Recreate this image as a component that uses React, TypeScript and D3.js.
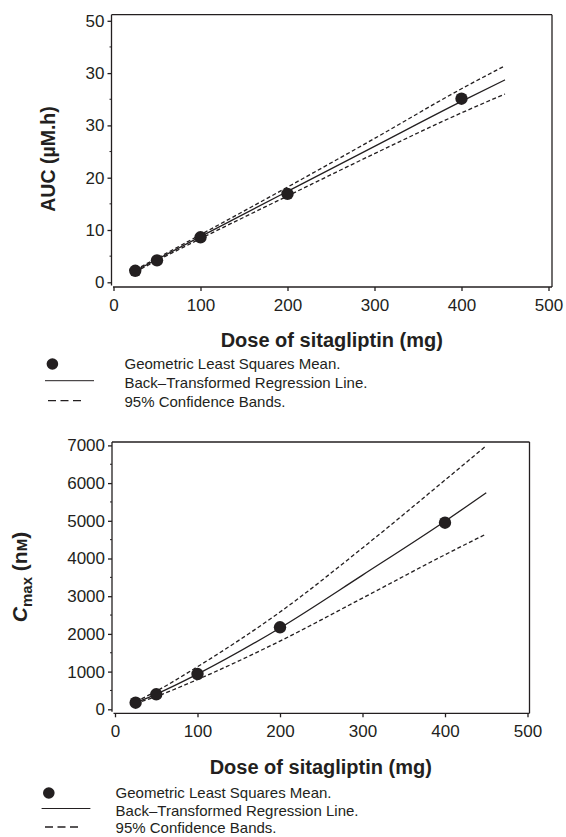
import { useEffect, useRef } from 'react'
import * as d3 from 'd3'

// sitagliptin dose (mg) at which geometric LS means were observed
const doses = [25, 50, 100, 200, 400]
const fitDoses = [25, 50, 100, 200, 300, 400, 450]

// AUC (uM.h)
const aucMeans = [2.2, 4.2, 8.6, 16.9, 35.1]
const aucFit = [2.2, 4.38, 8.73, 17.38, 26.0, 34.6, 38.7]
const aucUpper = [2.4, 4.6, 9.1, 18.2, 27.5, 37.0, 41.4]
const aucLower = [2.0, 4.15, 8.35, 16.5, 24.6, 32.4, 36.0]

// Cmax (nM)
const cmaxMeans = [175, 398, 936, 2175, 4950]
const cmaxFit = [175, 404, 934, 2158, 3560, 4988, 5745]
const cmaxUpper = [200, 480, 1130, 2580, 4280, 6080, 6990]
const cmaxLower = [155, 340, 790, 1810, 2950, 4100, 4650]

const xTicks = [0, 100, 200, 300, 400, 500]
const aucTicks = [0, 10, 20, 30, 40, 50]
const aucTickLabels = ['0', '10', '20', '30', '30', '50'] // as printed in the original
const cmaxTicks = [0, 1000, 2000, 3000, 4000, 5000, 6000, 7000]

const legendLabels = [
  'Geometric Least Squares Mean.',
  'Back\u2013Transformed Regression Line.',
  '95% Confidence Bands.'
]

const INK = '#231f20'
const FONT = "'Liberation Sans', Arial, Helvetica, sans-serif"

export default function App() {
  const svgRef = useRef<SVGSVGElement>(null)

  useEffect(() => {
    if (!svgRef.current) return
    const svg = d3.select(svgRef.current)
    svg.selectAll('*').remove()

    const panel = (cfg: any) => {
      const g = svg.append('g')
      const x = d3.scaleLinear().domain([0, 500]).range(cfg.xRange)
      const y = d3.scaleLinear().domain(cfg.yDomain).range(cfg.yRange)
      const f = cfg.frame

      // frame
      g.append('line').attr('x1', f.left).attr('x2', f.left).attr('y1', f.top).attr('y2', f.bottom - 1.5)
      g.append('line').attr('x1', f.left + 1.5).attr('x2', f.right).attr('y1', f.bottom).attr('y2', f.bottom)
      g.append('line').attr('x1', f.left).attr('x2', f.right).attr('y1', f.top).attr('y2', f.top)
      g.append('line').attr('x1', f.right).attr('x2', f.right).attr('y1', f.top).attr('y2', f.bottom)
      g.selectAll('line').attr('stroke', INK).attr('stroke-width', 1.3)

      // x axis
      const xa = g.append('g').attr('transform', `translate(0,${f.bottom})`)
        .call(d3.axisBottom(x).tickValues(xTicks).tickSize(4).tickPadding(8).tickFormat(d3.format('d')))
      xa.select('.domain').remove()

      // y axis
      const ya = g.append('g').attr('transform', `translate(${f.left},0)`)
        .call(d3.axisLeft(y).tickValues(cfg.yTicks).tickSize(4).tickPadding(3)
          .tickFormat((d: any, i: number) => cfg.yLabels ? cfg.yLabels[i] : String(d)))
      ya.select('.domain').remove()

      // y minor ticks
      g.selectAll('.minor').data(cfg.yMinor).enter().append('line')
        .attr('x1', f.left - 2).attr('x2', f.left)
        .attr('y1', (d: number) => y(d)).attr('y2', (d: number) => y(d))
        .attr('stroke', INK).attr('stroke-width', 1)

      ;[xa, ya].forEach(a => {
        a.selectAll('line').attr('stroke', INK).attr('stroke-width', 1.3)
        a.selectAll('text').attr('fill', INK).style('font-size', '17px').style('font-family', FONT)
      })

      const line = d3.line<number>()
        .x((_, i) => x(fitDoses[i]))
        .y(d => y(d))
        .curve(d3.curveMonotoneX)

      g.append('path').attr('d', line(cfg.upper)).attr('fill', 'none')
        .attr('stroke', INK).attr('stroke-width', 1.3).attr('stroke-dasharray', '4,2.5')
      g.append('path').attr('d', line(cfg.lower)).attr('fill', 'none')
        .attr('stroke', INK).attr('stroke-width', 1.3).attr('stroke-dasharray', '4,2.5')
      g.append('path').attr('d', line(cfg.fit)).attr('fill', 'none')
        .attr('stroke', INK).attr('stroke-width', 1.3)

      g.selectAll('.pt').data(cfg.means).enter().append('circle')
        .attr('cx', (_: any, i: number) => x(doses[i]))
        .attr('cy', (d: number) => y(d))
        .attr('r', 6.2)
        .attr('fill', INK)

      // x title
      g.append('text')
        .attr('x', (f.left + f.right) / 2).attr('y', cfg.xTitleY)
        .attr('text-anchor', 'middle')
        .style('font-family', FONT).style('font-size', '20px').style('font-weight', 'bold')
        .attr('fill', INK)
        .text('Dose of sitagliptin (mg)')

      // legend
      const lg = cfg.legend
      g.append('circle').attr('cx', lg.dotX).attr('cy', lg.rows[0]).attr('r', 5.8).attr('fill', INK)
      g.append('line').attr('x1', lg.solid[0]).attr('x2', lg.solid[1])
        .attr('y1', lg.rows[1] - 2).attr('y2', lg.rows[1] - 2)
        .attr('stroke', INK).attr('stroke-width', 1)
      g.append('line').attr('x1', lg.dash[0]).attr('x2', lg.dash[1])
        .attr('y1', lg.rows[2] - 1).attr('y2', lg.rows[2] - 1)
        .attr('stroke', INK).attr('stroke-width', 1.3).attr('stroke-dasharray', '8,4.5')
      g.selectAll('.lt').data(legendLabels).enter().append('text')
        .attr('x', lg.textX).attr('y', (_: any, i: number) => lg.rows[i])
        .attr('dy', '0.35em')
        .style('font-family', FONT).style('font-size', '15px')
        .attr('fill', INK)
        .text((d: string) => d)

      return g
    }

    const top = panel({
      xRange: [113.5, 548.5],
      yDomain: [0, 50],
      yRange: [282.3, 20.8],
      yTicks: aucTicks,
      yLabels: aucTickLabels,
      yMinor: [5, 15, 25, 35, 45],
      frame: { left: 111.5, top: 14.7, right: 552, bottom: 287 },
      means: aucMeans, fit: aucFit, upper: aucUpper, lower: aucLower,
      xTitleY: 347,
      legend: { dotX: 52.4, solid: [45, 94], dash: [48, 83], textX: 124.5, rows: [364, 382.7, 401.7] }
    })

    top.append('text')
      .attr('transform', 'translate(48,159) rotate(-90)')
      .attr('text-anchor', 'middle').attr('dy', '0.35em')
      .style('font-family', FONT).style('font-size', '19.5px').style('font-weight', 'bold')
      .attr('fill', INK)
      .text('AUC (\u00b5M.h)')

    const bottom = panel({
      xRange: [115, 527.5],
      yDomain: [0, 7000],
      yRange: [709.3, 445.4],
      yTicks: cmaxTicks,
      yMinor: [500, 1500, 2500, 3500, 4500, 5500, 6500],
      frame: { left: 112, top: 442, right: 529.5, bottom: 713.3 },
      means: cmaxMeans, fit: cmaxFit, upper: cmaxUpper, lower: cmaxLower,
      xTitleY: 773.5,
      legend: { dotX: 48.8, solid: [41.6, 90.4], dash: [45, 79.5], textX: 115.6, rows: [793, 810.5, 828] }
    })

    const ct = bottom.append('text')
      .attr('transform', 'translate(20,577) rotate(-90)')
      .attr('text-anchor', 'middle').attr('dy', '0.35em')
      .style('font-family', FONT).style('font-size', '21px').style('font-weight', 'bold')
      .attr('fill', INK)
    ct.append('tspan').style('font-style', 'italic').text('C')
    ct.append('tspan').attr('dy', '5').style('font-size', '15px').text('max')
    ct.append('tspan').attr('dy', '-5').text(' (n')
    ct.append('tspan').style('font-size', '15px').text('M')
    ct.append('tspan').text(')')
  }, [])

  return (
    <div style={{ position: 'absolute', left: 0, top: 0, width: 566, height: 837, background: '#fff' }}>
      <svg ref={svgRef} width={566} height={837} style={{ display: 'block' }}></svg>
    </div>
  )
}
